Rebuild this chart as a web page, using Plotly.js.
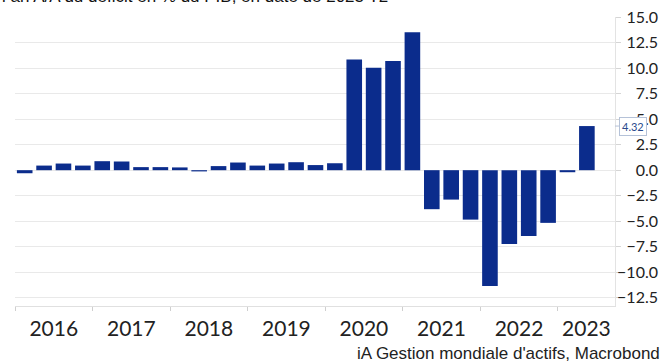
<!DOCTYPE html>
<html>
<head>
<meta charset="utf-8">
<script src="https://cdn.plot.ly/plotly-3.0.1.min.js"></script>
<style>
  html, body { margin: 0; padding: 0; background: #fff; }
  #chart { width: 668px; height: 364px; }
</style>
</head>
<body>
<div id="chart"></div>
<script>
// Quarterly data, 2016 T1 .. 2023 T2
const quarters = [
  '2016 T1','2016 T2','2016 T3','2016 T4',
  '2017 T1','2017 T2','2017 T3','2017 T4',
  '2018 T1','2018 T2','2018 T3','2018 T4',
  '2019 T1','2019 T2','2019 T3','2019 T4',
  '2020 T1','2020 T2','2020 T3','2020 T4',
  '2021 T1','2021 T2','2021 T3','2021 T4',
  '2022 T1','2022 T2','2022 T3','2022 T4',
  '2023 T1','2023 T2'
];
const deficitChange = [
  -0.30, 0.45, 0.65, 0.45,
   0.88, 0.85, 0.30, 0.30,
   0.27,-0.12, 0.40, 0.75,
   0.45, 0.65, 0.78, 0.50,
   0.68,10.85,10.03,10.70,
  13.50,-3.82,-2.88,-4.84,
 -11.34,-7.22,-6.44,-5.16,
  -0.20, 4.32
];
const years = ['2016','2017','2018','2019','2020','2021','2022','2023'];
const yTicks = [-12.5,-10,-7.5,-5,-2.5,0,2.5,5,7.5,10,12.5,15];

const titleText = "Variation sur un an A/A du déficit en % du PIB, en date de 2023 T2";
const sourceText = "iA Gestion mondiale d'actifs, Macrobond";

const idx = quarters.map((q, i) => i);
const xRange = [-0.5, 30.45];
const yRange = [-13.3, 15.0];
const xDomainEnd = 0.9331;

// year boundaries (quarter index) and label centres (visible part of each year)
const yearStart = years.map(y => quarters.indexOf(y + ' T1') - 0.5);
const yearMid = yearStart.map(s => {
  const a = Math.max(s, xRange[0]);
  const b = Math.min(s + 4, xRange[1]);
  return (a + b) / 2;
});

const lastVal = deficitChange[deficitChange.length - 1];

const trace = {
  type: 'bar',
  x: idx,
  y: deficitChange,
  text: quarters,
  hoverinfo: 'text+y',
  textposition: 'none',
  marker: { color: '#0b2c8c', line: { width: 0 } },
  xaxis: 'x',
  yaxis: 'y'
};

const layout = {
  width: 668,
  height: 364,
  margin: { l: 15, r: 10, t: 17, b: 58 },
  paper_bgcolor: '#ffffff',
  plot_bgcolor: '#ffffff',
  showlegend: false,
  bargap: 0.195,
  font: { family: 'Lato, sans-serif', color: '#222222' },
  xaxis: {
    domain: [0, xDomainEnd],
    range: xRange,
    type: 'linear',
    tickmode: 'array',
    tickvals: yearStart,
    showticklabels: false,
    ticks: 'outside',
    ticklen: 4,
    tickcolor: '#cfcfcf',
    showgrid: false,
    zeroline: false,
    showline: true,
    linecolor: '#e0e0e0',
    linewidth: 1,
    fixedrange: true
  },
  xaxis2: {
    overlaying: 'x',
    matches: 'x',
    domain: [0, xDomainEnd],
    anchor: 'y',
    side: 'bottom',
    range: xRange,
    type: 'linear',
    tickmode: 'array',
    tickvals: yearMid,
    ticktext: years,
    ticks: '',
    ticklabelstandoff: 8,
    showgrid: false,
    zeroline: false,
    showline: false,
    tickfont: { family: 'Lato, sans-serif', size: 21, color: '#222222' }
  },
  yaxis: {
    anchor: 'x',
    side: 'right',
    range: yRange,
    tickmode: 'array',
    tickvals: yTicks,
    showticklabels: false,
    ticks: 'outside',
    ticklen: 5,
    tickcolor: '#d5d5d5',
    showgrid: true,
    gridcolor: '#e9e9e9',
    gridwidth: 1,
    zeroline: false,
    showline: true,
    linecolor: '#e3e3e3',
    fixedrange: true
  },
  yaxis3: {
    overlaying: 'y',
    anchor: 'free',
    position: 1,
    side: 'left',
    range: yRange,
    tickmode: 'array',
    tickvals: yTicks,
    tickformat: '.1f',
    ticks: '',
    showgrid: false,
    zeroline: false,
    showline: false,
    automargin: false,
    tickfont: { family: 'Lato, sans-serif', size: 16, color: '#222222' }
  },
  annotations: [
    {
      xref: 'paper', yref: 'paper',
      x: 0.583, y: 1.071,
      xanchor: 'right', yanchor: 'middle',
      text: titleText,
      showarrow: false,
      font: { family: 'Liberation Sans, Arial, sans-serif', size: 17, color: '#111111' }
    },
    {
      xref: 'paper', yref: 'paper',
      x: 1.006, y: -0.166,
      xanchor: 'right', yanchor: 'middle',
      text: sourceText,
      showarrow: false,
      font: { family: 'Liberation Sans, Arial, sans-serif', size: 17, color: '#222222' }
    },
    {
      xref: 'paper', yref: 'y',
      x: xDomainEnd, y: lastVal,
      text: lastVal.toFixed(2),
      showarrow: true,
      arrowhead: 0,
      arrowwidth: 1,
      arrowcolor: '#b5c2d8',
      ax: 4, ay: 0,
      xanchor: 'left',
      standoff: 0,
      bgcolor: '#ffffff',
      bordercolor: '#b5c2d8',
      borderwidth: 1,
      borderpad: 2,
      font: { family: 'Lato, sans-serif', size: 11, color: '#2a4a8c' }
    }
  ]
};

// invisible trace to activate overlay axes
const axisTrace = {
  type: 'scatter', x: [idx[0]], y: [deficitChange[0]],
  xaxis: 'x2', yaxis: 'y3', mode: 'markers',
  marker: { opacity: 0 }, hoverinfo: 'skip'
};

Plotly.newPlot('chart', [trace, axisTrace], layout, { displayModeBar: false, staticPlot: true });
</script>
</body>
</html>
